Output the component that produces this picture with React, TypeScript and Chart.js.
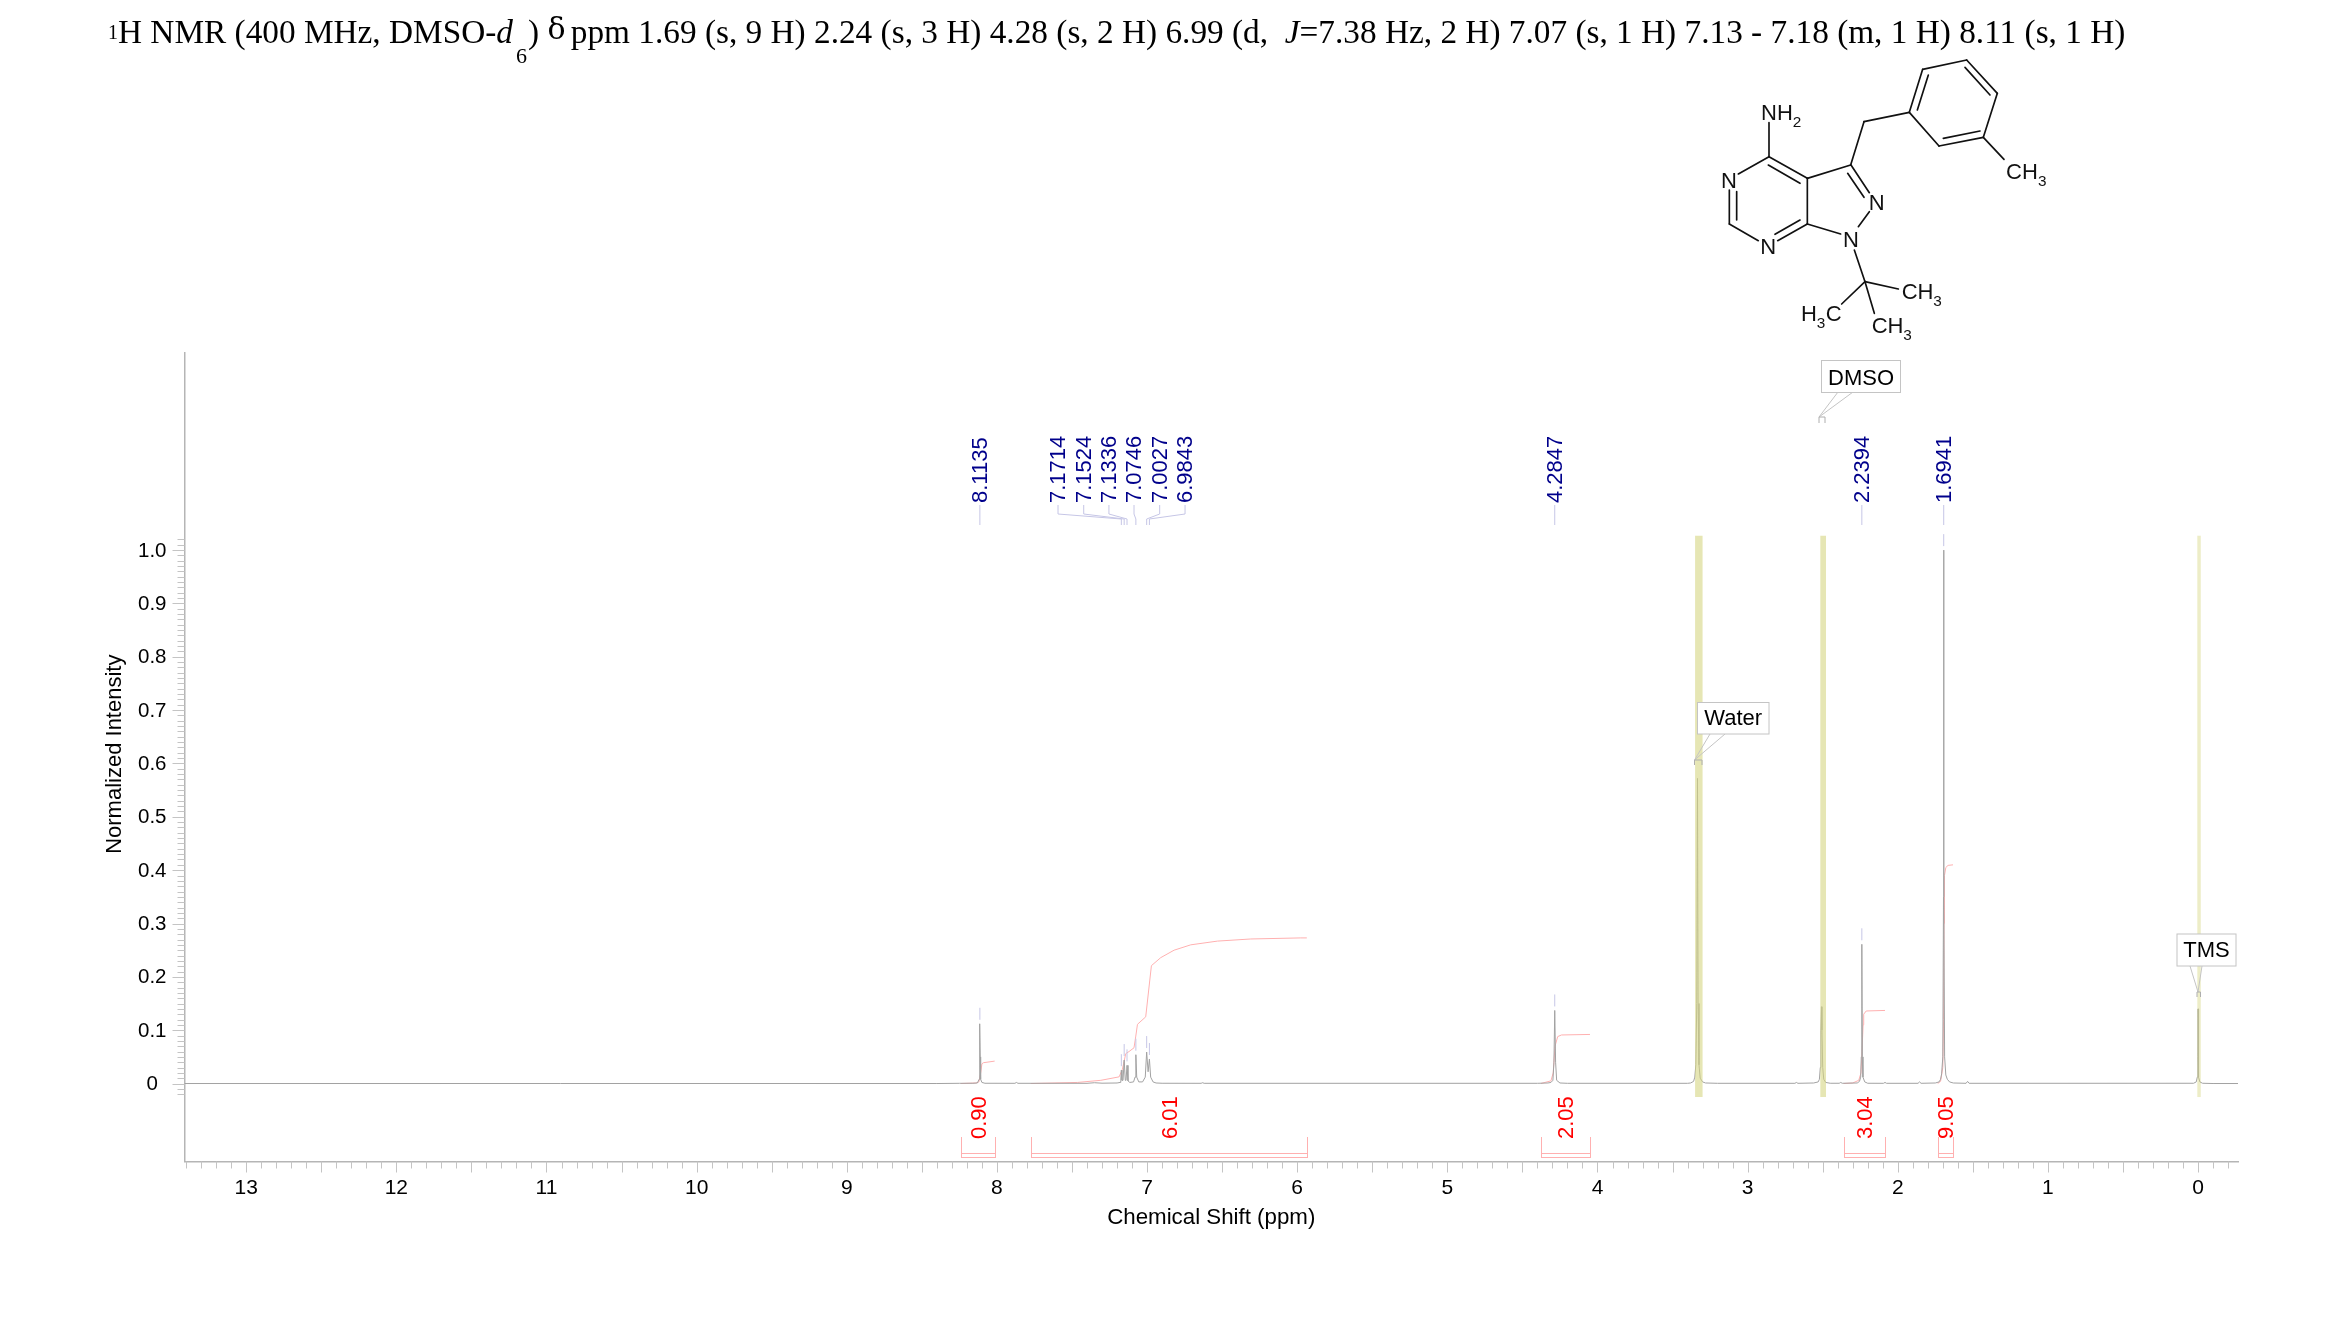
import React, { useEffect, useRef } from "react";
import { Chart, registerables } from "chart.js";

Chart.register(...registerables);

const FONT = '"Liberation Sans", Arial, sans-serif';

// spectrum, [ppm, normalized intensity]
const baselineLeft = [[13.41, 0], [8.4, 0], [8.25, 0.0004]];
const peak811 = [[8.16, 0.0005], [8.13, 0.001], [8.1185, 0.008], [8.116, 0.05], [8.1135, 0.112], [8.111, 0.05], [8.1085, 0.008], [8.1, 0.002], [8.08, 0.0005]];
const smallBumps1 = [[7.88, 0.0004], [7.87, 0.002], [7.86, 0.0004], [7.4, 0.0004], [7.35, 0.0015], [7.3, 0.0006]];
const aromatic = [[7.2, 0.001], [7.18, 0.002], [7.175, 0.006], [7.1714, 0.025], [7.167, 0.006], [7.16, 0.006], [7.1524, 0.044], [7.145, 0.006], [7.14, 0.006], [7.1336, 0.034], [7.127, 0.005], [7.115, 0.002], [7.09, 0.003], [7.08, 0.012], [7.0746, 0.054], [7.069, 0.012], [7.055, 0.003], [7.03, 0.003], [7.012, 0.012], [7.0027, 0.059], [6.993, 0.022], [6.9843, 0.046], [6.976, 0.012], [6.96, 0.003], [6.94, 0.001], [6.9, 0.0005]];
const smallBumps2 = [[6.64, 0.0004], [6.63, 0.0015], [6.62, 0.0004], [4.4, 0.0004]];
const peak428 = [[4.33, 0.001], [4.31, 0.002], [4.297, 0.006], [4.29, 0.04], [4.2847, 0.137], [4.279, 0.04], [4.272, 0.006], [4.25, 0.001], [4.2, 0.0004]];
const peakWater = [[3.4, 0.0004], [3.38, 0.001], [3.36, 0.004], [3.352, 0.012], [3.345, 0.035], [3.339, 0.15], [3.334, 0.572], [3.33, 0.15], [3.324, 0.035], [3.316, 0.01], [3.3, 0.003], [3.28, 0.001], [3.2, 0.0004]];
const smallBumps3 = [[2.685, 0.0004], [2.675, 0.002], [2.665, 0.0004]];
const peakDmso = [[2.56, 0.001], [2.53, 0.003], [2.522, 0.008], [2.516, 0.03], [2.512, 0.1], [2.5085, 0.144], [2.505, 0.1], [2.5, 0.03], [2.493, 0.008], [2.48, 0.002], [2.45, 0.0005], [2.39, 0.0005], [2.38, 0.002], [2.37, 0.0005]];
const peak224 = [[2.27, 0.001], [2.255, 0.004], [2.247, 0.012], [2.243, 0.05], [2.2394, 0.261], [2.236, 0.05], [2.232, 0.012], [2.22, 0.003], [2.2, 0.0005], [2.095, 0.0004], [2.085, 0.002], [2.075, 0.0004]];
const smallBumps4 = [[1.865, 0.0004], [1.855, 0.003], [1.845, 0.0004]];
const peak169 = [[1.75, 0.001], [1.725, 0.003], [1.715, 0.008], [1.708, 0.018], [1.7, 0.05], [1.6955, 0.35], [1.6941, 1.0], [1.693, 0.35], [1.688, 0.05], [1.68, 0.016], [1.67, 0.008], [1.655, 0.003], [1.63, 0.001], [1.545, 0.0004], [1.535, 0.004], [1.525, 0.0004]];
const peakTms = [[0.03, 0.0005], [0.012, 0.003], [0.005, 0.012], [0.0015, 0.05], [0, 0.14], [-0.0015, 0.05], [-0.005, 0.012], [-0.012, 0.003], [-0.03, 0.0005]];
const baselineRight = [[-0.1, 0], [-0.266, 0]];

// integral curves, [ppm, height]
const integral090 = [[8.241, 0], [8.141, 0.001], [8.12, 0.003], [8.108, 0.02], [8.1, 0.037], [8.09, 0.039], [8.015, 0.042]];
const integral601 = [[7.775, 0], [7.464, 0.002], [7.308, 0.006], [7.186, 0.0125], [7.164, 0.027], [7.142, 0.056], [7.12, 0.06], [7.087, 0.067], [7.075, 0.089], [7.064, 0.111], [7.009, 0.125], [6.971, 0.221], [6.909, 0.236], [6.82, 0.25], [6.709, 0.26], [6.531, 0.267], [6.309, 0.271], [5.976, 0.273], [5.936, 0.273]];
const integral205 = [[4.377, 0], [4.31, 0.005], [4.295, 0.02], [4.283, 0.07], [4.265, 0.088], [4.24, 0.091], [4.05, 0.092]];
const integral304 = [[2.361, 0], [2.3, 0.001], [2.26, 0.006], [2.245, 0.02], [2.239, 0.055], [2.231, 0.11], [2.227, 0.13], [2.21, 0.136], [2.085, 0.137]];
const integral905 = [[1.734, 0], [1.715, 0.004], [1.7, 0.03], [1.695, 0.12], [1.692, 0.3], [1.689, 0.39], [1.68, 0.405], [1.665, 0.409], [1.632, 0.41]];

const integralLabels = ["0.90", "6.01", "2.05", "3.04", "9.05"];
const integralCurves = [integral090, integral601, integral205, integral304, integral905];

// peak picking
const peakLabels = ["8.1135", "7.1714", "7.1524", "7.1336", "7.0746", "7.0027", "6.9843", "4.2847", "2.2394", "1.6941"];
const peakShifts = [8.1135, 7.1714, 7.1524, 7.1336, 7.0746, 7.0027, 6.9843, 4.2847, 2.2394, 1.6941];
const peakTops = [0.112, 0.025, 0.044, 0.034, 0.054, 0.059, 0.046, 0.137, 0.261, 1.0];
const peakLabelShifts = [8.1135, 7.593, 7.422, 7.254, 7.087, 6.916, 6.747, 4.2847, 2.2394, 1.6941];

// solvent bands [from ppm, to ppm]
const bandNames = ["Water", "DMSO", "TMS"];
const bandRanges = [[3.35, 3.3], [2.516, 2.478], [0.005, -0.018]];

const spectrum = [
  ...baselineLeft, ...peak811, ...smallBumps1, ...aromatic, ...smallBumps2, ...peak428,
  ...peakWater, ...smallBumps3, ...peakDmso, ...peak224, ...smallBumps4, ...peak169,
  ...peakTms, ...baselineRight,
].map(([x, y]) => ({ x, y }));

const X_MIN = -0.266;
const X_MAX = 13.411;
const Y_MIN = -0.1462;
const Y_MAX = 1.3696;

const BLUE_LINE = "#c6c6e6";
const PINK = "#ffb0b0";
const TICK = "#c4c4c4";

const calloutStyles = {
  Water: { box: [1697.5, 702.5, 71.5, 31.5], leg: [[1710, 734], [1725, 734]], tip: [1694.5, 760], cap: [1694.5, 760, 7.5, 5], dy: 0.5 },
  DMSO: { box: [1821.5, 360.5, 79, 32], leg: [[1838, 392], [1853, 392]], tip: [1819, 417], cap: [1819, 417, 6, 6], dy: 2 },
  TMS: { box: [2177, 934, 59, 32], leg: [[2190, 966], [2202, 966]], tip: [2198, 992], cap: [2197, 992, 3.5, 5], dy: 0.5 },
};

const overlay = {
  id: "nmrOverlay",
  afterDatasetsDraw(chart) {
    const { ctx } = chart;
    const x = chart.scales.x;
    const y = chart.scales.y;
    ctx.save();

    // solvent bands over the spectrum
    ctx.fillStyle = "rgba(214,214,130,0.6)";
    const bandTop = y.getPixelForValue(1.027);
    const bandBottom = y.getPixelForValue(-0.0253);
    bandRanges.forEach(([a, b], i) => {
      const xa = x.getPixelForValue(a);
      const xb = x.getPixelForValue(b);
      ctx.globalAlpha = bandNames[i] === "TMS" ? 0.75 : 1;
      ctx.fillRect(xa, bandTop, xb - xa, bandBottom - bandTop);
    });
    ctx.globalAlpha = 1;

    // axis tick marks
    ctx.strokeStyle = TICK;
    ctx.lineWidth = 1;
    ctx.beginPath();
    x.ticks.forEach((t) => {
      const p = Math.round(x.getPixelForValue(t.value)) + 0.5;
      const tenth = Math.round(t.value * 10);
      const len = tenth % 5 === 0 ? 11 : 7;
      ctx.moveTo(p, x.top);
      ctx.lineTo(p, x.top + len);
    });
    y.ticks.forEach((t) => {
      if (t.value < -0.021 || t.value > 1.021) return;
      const p = Math.round(y.getPixelForValue(t.value)) + 0.5;
      const hundredth = Math.round(t.value * 100);
      const len = hundredth % 10 === 0 ? 12 : 7;
      ctx.moveTo(y.right - len, p);
      ctx.lineTo(y.right, p);
    });
    ctx.stroke();

    // peak labels and stems
    peakLabels.forEach((label, i) => {
      const px = x.getPixelForValue(peakShifts[i]);
      const lx = x.getPixelForValue(peakLabelShifts[i]);
      const top = y.getPixelForValue(peakTops[i]);
      ctx.strokeStyle = BLUE_LINE;
      ctx.lineWidth = 1;
      ctx.beginPath();
      ctx.moveTo(lx, 505);
      ctx.lineTo(lx, 514);
      ctx.lineTo(px, 519);
      ctx.lineTo(px, 525);
      ctx.moveTo(px, top - 16);
      ctx.lineTo(px, top - 4);
      ctx.stroke();
      ctx.save();
      ctx.translate(lx + 1, 503);
      ctx.rotate(-Math.PI / 2);
      ctx.font = `22px ${FONT}`;
      ctx.fillStyle = "#00008b";
      ctx.textAlign = "left";
      ctx.textBaseline = "middle";
      ctx.fillText(label, 0, 0);
      ctx.restore();
    });

    // integral brackets and labels
    integralLabels.forEach((label, i) => {
      const curve = integralCurves[i];
      const xa = x.getPixelForValue(curve[0][0]);
      const xb = x.getPixelForValue(curve[curve.length - 1][0]);
      ctx.strokeStyle = PINK;
      ctx.lineWidth = 1;
      ctx.strokeRect(Math.round(xa) + 0.5, 1153.5, Math.round(xb - xa), 4);
      ctx.beginPath();
      ctx.moveTo(Math.round(xa) + 0.5, 1137);
      ctx.lineTo(Math.round(xa) + 0.5, 1153);
      ctx.moveTo(Math.round(xb) + 0.5, 1137);
      ctx.lineTo(Math.round(xb) + 0.5, 1153);
      ctx.stroke();
      ctx.save();
      ctx.translate((xa + xb) / 2 + 2, 1139);
      ctx.rotate(-Math.PI / 2);
      ctx.font = `22px ${FONT}`;
      ctx.fillStyle = "#ff0000";
      ctx.textAlign = "left";
      ctx.textBaseline = "middle";
      ctx.fillText(label, 0, 0);
      ctx.restore();
    });

    // callouts
    bandNames.forEach((name) => {
      const s = calloutStyles[name];
      ctx.strokeStyle = "#c4c4c4";
      ctx.lineWidth = 1;
      ctx.beginPath();
      ctx.moveTo(s.leg[0][0], s.leg[0][1]);
      ctx.lineTo(s.tip[0], s.tip[1]);
      ctx.lineTo(s.leg[1][0], s.leg[1][1]);
      ctx.stroke();
      ctx.strokeStyle = "#aeaeae";
      ctx.beginPath();
      ctx.moveTo(s.cap[0], s.cap[1] + s.cap[3]);
      ctx.lineTo(s.cap[0], s.cap[1]);
      ctx.lineTo(s.cap[0] + s.cap[2], s.cap[1]);
      ctx.lineTo(s.cap[0] + s.cap[2], s.cap[1] + s.cap[3]);
      ctx.stroke();
      ctx.fillStyle = "#ffffff";
      ctx.fillRect(s.box[0], s.box[1], s.box[2], s.box[3]);
      ctx.strokeStyle = "#c4c4c4";
      ctx.strokeRect(s.box[0], s.box[1], s.box[2], s.box[3]);
      ctx.font = `22px ${FONT}`;
      ctx.fillStyle = "#000000";
      ctx.textAlign = "center";
      ctx.textBaseline = "middle";
      ctx.fillText(name, s.box[0] + s.box[2] / 2, s.box[1] + s.box[3] / 2 + s.dy);
    });
    ctx.restore();
  },
};

const bonds = [
  [507, 218, 507, 320], [507, 320, 415, 372], [388, 420, 388, 522], [410, 425, 410, 510],
  [388, 522, 475, 572], [533, 572, 622, 522], [525, 553, 600, 510], [622, 522, 622, 385],
  [622, 385, 507, 320], [600, 400, 505, 345], [622, 385, 752, 345], [753, 345, 808, 428],
  [743, 370, 792, 442], [808, 485, 775, 530], [622, 522, 722, 552], [752, 345, 792, 215],
  [792, 215, 928, 187], [928, 187, 968, 58], [968, 58, 1100, 30], [1100, 30, 1192, 130],
  [1192, 130, 1150, 262], [1150, 262, 1017, 288], [1017, 288, 928, 187], [952, 180, 985, 75],
  [1095, 52, 1170, 135], [1140, 243, 1030, 265], [1150, 262, 1212, 328], [763, 600, 795, 695],
  [795, 695, 895, 717], [795, 695, 725, 762], [795, 695, 823, 790],
];

const atoms = [
  ["NH", 483, 210, 66], ["2", 578, 231, 46], ["N", 363, 414, 66], ["N", 806, 480, 66],
  ["N", 729, 590, 66], ["N", 481, 613, 66], ["CH", 1218, 386, 66], ["3", 1314, 407, 46],
  ["CH", 905, 746, 66], ["3", 1000, 767, 46], ["H", 603, 814, 66], ["3", 650, 835, 46],
  ["C", 677, 814, 66], ["CH", 815, 848, 66], ["3", 910, 869, 46],
];

function Molecule() {
  return (
    <svg
      style={{ position: "absolute", left: 1600, top: 50 }}
      width={500}
      height={320}
      viewBox="0 0 1500 960"
    >
      {bonds.map((b, i) => (
        <line key={i} x1={b[0]} y1={b[1]} x2={b[2]} y2={b[3]} stroke="#111" strokeWidth={5} strokeLinecap="round" />
      ))}
      {atoms.map((a, i) => (
        <text key={i} x={a[1]} y={a[2]} fontSize={a[3]} fontFamily={FONT} fill="#111">
          {a[0]}
        </text>
      ))}
    </svg>
  );
}

function Title() {
  return (
    <div
      style={{
        position: "absolute",
        left: 108,
        top: 12,
        whiteSpace: "pre",
        fontFamily: '"Liberation Serif", serif',
        fontSize: 33.3,
        lineHeight: "40px",
        color: "#000",
      }}
    >
      <span style={{ fontSize: 20, position: "relative", top: -4 }}>1</span>
      {"H NMR (400 MHz, DMSO-"}
      <i>d</i>
      <span style={{ fontSize: 22, position: "relative", top: 20, marginLeft: 3, marginRight: 1 }}>6</span>
      {") "}
      <span style={{ fontFamily: '"DejaVu Serif", serif', fontSize: 30, position: "relative", top: -4, marginRight: -3 }}>δ</span>
      {" ppm 1.69 (s, 9 H) 2.24 (s, 3 H) 4.28 (s, 2 H) 6.99 (d,  "}
      <i>J</i>
      {"=7.38 Hz, 2 H) 7.07 (s, 1 H) 7.13 - 7.18 (m, 1 H) 8.11 (s, 1 H)"}
    </div>
  );
}

export default function App() {
  const ref = useRef(null);
  useEffect(() => {
    const chart = new Chart(ref.current, {
      type: "scatter",
      data: {
        datasets: [
          { label: "Spectrum", data: spectrum, showLine: true, borderColor: "#a2a2a2", borderWidth: 1, pointRadius: 0, tension: 0 },
          ...integralCurves.map((c, i) => ({
            label: `Integral ${integralLabels[i]}`,
            data: c.map(([x, y]) => ({ x, y })),
            showLine: true,
            borderColor: PINK,
            borderWidth: 1,
            pointRadius: 0,
            tension: 0,
          })),
        ],
      },
      plugins: [overlay],
      options: {
        responsive: false,
        animation: false,
        layout: { padding: { left: 84.5, right: 101, top: 353, bottom: 96 } },
        plugins: { legend: { display: false }, tooltip: { enabled: false }, title: { display: false } },
        scales: {
          x: {
            type: "linear",
            reverse: true,
            min: X_MIN,
            max: X_MAX,
            afterFit: (s) => { s.height = 69.5; },
            grid: { display: false, drawTicks: false },
            border: { display: true, color: "#b5b5b5", width: 1.5 },
            title: {
              display: true,
              text: "Chemical Shift (ppm)",
              font: { family: FONT, size: 22.3 },
              color: "#000",
              padding: { top: 2, bottom: 0 },
            },
            ticks: {
              stepSize: 0.1,
              includeBounds: false,
              autoSkip: false,
              maxRotation: 0,
              minRotation: 0,
              padding: 14,
              color: "#000",
              font: { family: FONT, size: 21 },
              callback: (v) => {
                const t = Math.round(v * 10);
                return t % 10 === 0 ? String(t / 10) : "";
              },
            },
          },
          y: {
            type: "linear",
            min: Y_MIN,
            max: Y_MAX,
            afterFit: (s) => { s.width = 100; },
            grid: { display: false, drawTicks: false },
            border: { display: true, color: "#b5b5b5", width: 1.5 },
            title: {
              display: true,
              text: " Normalized Intensity",
              font: { family: FONT, size: 22 },
              color: "#000",
              padding: { top: 17, bottom: 0 },
            },
            ticks: {
              stepSize: 0.01,
              includeBounds: false,
              autoSkip: false,
              crossAlign: "center",
              padding: 18,
              labelOffset: 1,
              color: "#000",
              font: { family: FONT, size: 20.5 },
              callback: (v) => {
                const t = Math.round(v * 100);
                if (t % 10 !== 0 || t < 0 || t > 100) return "";
                return t === 0 ? "0" : (t / 100).toFixed(1);
              },
            },
          },
        },
      },
    });
    return () => chart.destroy();
  }, []);
  return (
    <div style={{ position: "absolute", left: 0, top: 0, width: 2339, height: 1327, overflow: "hidden", background: "#fff" }}>
      <canvas ref={ref} width={2339} height={1327} style={{ display: "block" }} />
      <Title />
      <Molecule />
    </div>
  );
}
